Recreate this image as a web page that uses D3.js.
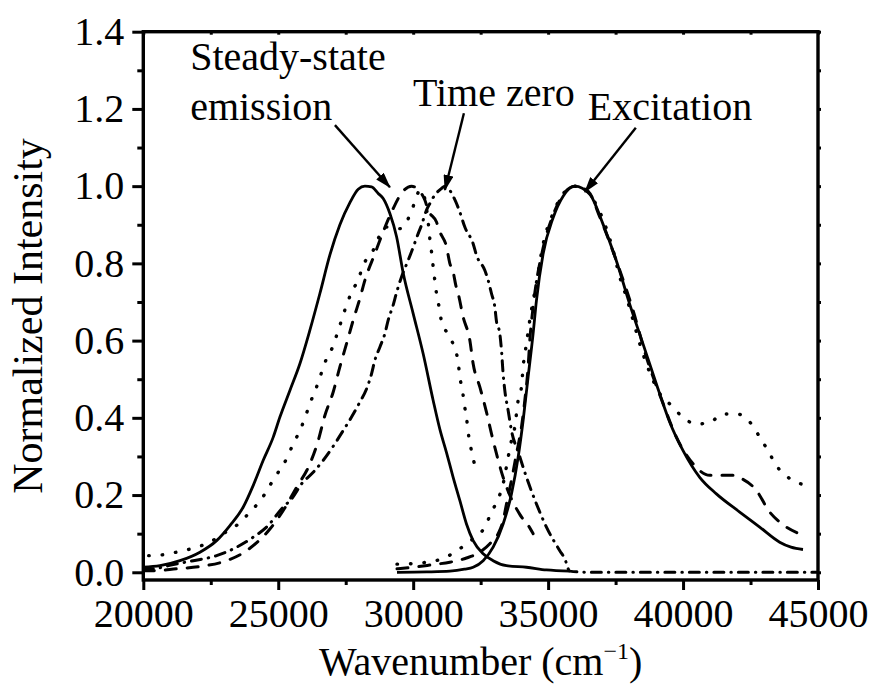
<!DOCTYPE html>
<html>
<head>
<meta charset="utf-8">
<script src="https://cdn.jsdelivr.net/npm/d3@7"></script>
<style>
    body { margin: 0; background: #fff; }
    svg { display: block; }
    text { font-family: "Liberation Serif", "Times New Roman", serif; fill: #000; }
</style>
</head>
<body>
<div id="chart"></div>
<script>
// Emission / excitation spectra: [wavenumber cm-1, normalized intensity]
const steadyEmission = [
    [20000, 0.013], [20617, 0.017], [21358, 0.030], [22099, 0.052], [22716, 0.082],
    [23210, 0.121], [23704, 0.169], [24074, 0.225], [24444, 0.290], [24815, 0.350],
    [25062, 0.402], [25432, 0.471], [25802, 0.540], [26173, 0.627], [26543, 0.722],
    [26914, 0.822], [27284, 0.900], [27660, 0.958], [27963, 0.992], [28211, 1.000],
    [28459, 0.998], [28704, 0.981], [28889, 0.968], [29137, 0.929], [29385, 0.869],
    [29630, 0.775], [30000, 0.670], [30370, 0.566], [30741, 0.445], [30990, 0.370],
    [31235, 0.310], [31481, 0.246], [31728, 0.186], [31975, 0.125], [32222, 0.082],
    [32593, 0.048], [32963, 0.030], [33457, 0.017], [34198, 0.013], [34938, 0.006],
    [35802, 0.003]
];
const dottedEmission = [
    [20200, 0.043], [20432, 0.043], [20926, 0.048], [21481, 0.056], [21975, 0.065],
    [22469, 0.078], [22963, 0.100], [23519, 0.125], [23951, 0.156], [24383, 0.190],
    [24691, 0.225], [25000, 0.259], [25309, 0.294], [25556, 0.333], [25802, 0.367],
    [26000, 0.402], [26173, 0.437], [26395, 0.475], [26568, 0.510], [26765, 0.549],
    [27000, 0.581], [27185, 0.618], [27346, 0.653], [27531, 0.692], [27716, 0.725],
    [27963, 0.758], [28148, 0.795], [28519, 0.834], [28765, 0.873], [29012, 0.894],
    [29506, 0.890], [29877, 0.925], [30062, 0.959], [30250, 0.990], [30420, 0.970],
    [30556, 0.907], [30617, 0.864], [30679, 0.830], [30741, 0.791], [30802, 0.756],
    [30864, 0.722], [30963, 0.686], [31049, 0.650], [31296, 0.616], [31543, 0.579],
    [31667, 0.544], [31728, 0.506], [31827, 0.471], [31889, 0.437], [31975, 0.401],
    [32037, 0.363], [32123, 0.328], [32222, 0.294], [32407, 0.257]
];
const dashedEmission = [
    [20000, 0.004], [20370, 0.004], [21235, 0.009], [22099, 0.015], [23086, 0.030],
    [23827, 0.056], [24691, 0.112], [25185, 0.160], [25679, 0.220], [26173, 0.281],
    [26481, 0.341], [26728, 0.406], [27037, 0.467], [27284, 0.532], [27531, 0.592],
    [27778, 0.653], [28025, 0.709], [28210, 0.756], [28580, 0.825], [28889, 0.882],
    [29259, 0.942], [29600, 0.985], [29941, 1.000], [30200, 0.990], [30432, 0.964],
    [30556, 0.938], [30864, 0.907], [30988, 0.882], [31235, 0.843], [31358, 0.800],
    [31481, 0.778], [31580, 0.743], [31667, 0.722], [31852, 0.661], [32099, 0.601],
    [32222, 0.540], [32469, 0.480], [32716, 0.415], [32901, 0.359], [33086, 0.307],
    [33333, 0.246], [33642, 0.190], [33951, 0.150], [34321, 0.115], [34444, 0.100]
];
const timeZeroEmission = [
    [20000, 0.008], [20370, 0.009], [21111, 0.020], [21852, 0.030], [22716, 0.043],
    [23457, 0.065], [24074, 0.091], [24568, 0.117], [25185, 0.169], [25494, 0.190],
    [25864, 0.229], [26296, 0.259], [26667, 0.290], [27099, 0.333], [27407, 0.367],
    [27716, 0.402], [28025, 0.441], [28272, 0.475], [28457, 0.514], [28580, 0.549],
    [28765, 0.583], [28951, 0.618], [29074, 0.653], [29259, 0.692], [29383, 0.724],
    [29568, 0.765], [29815, 0.808], [29938, 0.830], [30185, 0.877], [30309, 0.899],
    [30494, 0.938], [30617, 0.955], [30802, 0.977], [31049, 0.994], [31173, 1.000],
    [31543, 0.965], [31728, 0.933], [31914, 0.894], [32222, 0.851], [32346, 0.821],
    [32654, 0.782], [32778, 0.756], [32901, 0.722], [33025, 0.687], [33086, 0.650],
    [33210, 0.618], [33272, 0.575], [33333, 0.514], [33395, 0.471], [33519, 0.419],
    [33642, 0.367], [33900, 0.310], [34198, 0.246], [34568, 0.177], [34938, 0.117],
    [35432, 0.056], [35617, 0.035], [35800, 0.003], [36500, 0.000], [45000, 0.000]
];
const steadyExcitation = [
    [29400, 0.000], [30500, 0.001], [31358, 0.003], [31900, 0.008], [32222, 0.013],
    [32593, 0.030], [32963, 0.065], [33333, 0.125], [33642, 0.203], [33889, 0.298],
    [34074, 0.393], [34259, 0.506], [34444, 0.618], [34568, 0.704], [34815, 0.825],
    [35185, 0.918], [35556, 0.974], [35989, 1.000], [36543, 0.979], [37037, 0.901],
    [37531, 0.806], [38025, 0.694], [38519, 0.591], [39136, 0.462], [39500, 0.390],
    [40000, 0.315], [40617, 0.246], [41235, 0.203], [42099, 0.156], [42840, 0.117],
    [43580, 0.078], [44000, 0.065], [44444, 0.059]
];
const dashedExcitation = [
    [29400, 0.009], [30000, 0.013], [30741, 0.020], [31358, 0.026], [31975, 0.037],
    [32469, 0.052], [32840, 0.074], [33148, 0.100], [33333, 0.134], [33457, 0.177],
    [33642, 0.238], [33827, 0.307], [34012, 0.376], [34136, 0.445], [34259, 0.532],
    [34321, 0.600], [34444, 0.687], [34815, 0.840], [35185, 0.925], [35556, 0.978],
    [35989, 1.000], [36500, 0.985], [36914, 0.920], [37654, 0.782], [38148, 0.678],
    [38642, 0.557], [39259, 0.437], [39753, 0.350], [40370, 0.281], [40989, 0.251],
    [41852, 0.251], [42099, 0.245], [42716, 0.212], [43210, 0.156], [43580, 0.130],
    [44444, 0.096]
];
const dottedExcitation = [
    [29400, 0.021], [30250, 0.024], [31111, 0.036], [31728, 0.061], [32222, 0.087],
    [32654, 0.117], [32901, 0.156], [33148, 0.190], [33333, 0.229], [33519, 0.298],
    [33642, 0.341], [33765, 0.376], [33889, 0.445], [34012, 0.480], [34074, 0.532],
    [34198, 0.592], [34321, 0.653], [34568, 0.750], [34815, 0.850], [35185, 0.930],
    [35556, 0.980], [35950, 1.000], [36400, 0.990], [36790, 0.951], [37160, 0.890],
    [37407, 0.834], [37654, 0.765], [37901, 0.713], [38148, 0.653], [38395, 0.592],
    [38642, 0.540], [38889, 0.497], [39136, 0.463], [39568, 0.432], [40000, 0.401],
    [40496, 0.384], [40989, 0.388], [41481, 0.410], [42000, 0.410], [42533, 0.384],
    [42841, 0.350], [43148, 0.315], [43459, 0.276], [43889, 0.246], [44444, 0.227]
];

const xMajorTicks = [20000, 25000, 30000, 35000, 40000, 45000];
const xMinorTicks = [22500, 27500, 32500, 37500, 42500];
const yMajorTicks = [0.0, 0.2, 0.4, 0.6, 0.8, 1.0, 1.2, 1.4];
const yMinorTicks = [0.1, 0.3, 0.5, 0.7, 0.9, 1.1, 1.3];

// Annotation labels and arrows, in data units: [text, wavenumber, intensity]
const labels = [
    ["Steady-state", 21736, 1.300],
    ["emission", 21736, 1.171],
    ["Time zero", 29990, 1.207],
    ["Excitation", 36470, 1.171]
];
// [fromWavenumber, fromIntensity, toWavenumber, toIntensity]
const arrows = [
    [27101, 1.158, 29138, 0.997],
    [31880, 1.189, 31175, 0.990],
    [38250, 1.151, 36360, 0.985]
];

const width = 872;
const height = 687;
const plotLeft = 143.3, plotRight = 818, plotTop = 31.7, plotBottom = 580;
const fontSize = 40;

const svg = d3.select("#chart").append("svg")
    .attr("width", width)
    .attr("height", height);

const x = d3.scaleLinear().domain([20000, 45000]).range([plotLeft, plotRight]);
const y = d3.scaleLinear().domain([-0.02, 1.4]).range([plotBottom, plotTop]);

svg.append("defs").append("clipPath").attr("id", "plot-clip")
    .append("rect")
    .attr("x", plotLeft).attr("y", plotTop)
    .attr("width", plotRight - plotLeft).attr("height", plotBottom - plotTop);

const line = d3.line()
    .x(d => x(d[0]))
    .y(d => y(d[1]))
    .curve(d3.curveMonotoneX);

const solid = null;
const dotted = "0.5,13";
const dashed = "11,11";
const dashDot = "10,7,0.5,7";

const series = [
    { data: steadyEmission, dash: solid },
    { data: dottedEmission, dash: dotted },
    { data: dashedEmission, dash: dashed },
    { data: timeZeroEmission, dash: dashDot },
    { data: steadyExcitation, dash: solid },
    { data: dashedExcitation, dash: dashed },
    { data: dottedExcitation, dash: dotted }
];

svg.append("g")
    .attr("clip-path", "url(#plot-clip)")
    .selectAll("path")
    .data(series)
    .join("path")
    .attr("d", s => line(s.data))
    .attr("fill", "none")
    .attr("stroke", "#000")
    .attr("stroke-width", s => s.dash === dotted ? 3.4 : s.dash ? 3 : 2.8)
    .attr("stroke-linecap", s => s.dash ? "round" : "butt")
    .attr("stroke-linejoin", "round")
    .attr("stroke-dasharray", s => s.dash);

// axes
function styleAxis(g) {
    g.select(".domain").remove();
    g.selectAll(".tick line").attr("stroke", "#000").attr("stroke-width", 3);
    g.selectAll(".tick text")
        .attr("fill", "#000")
        .style("font-family", "'Liberation Serif', 'Times New Roman', serif")
        .style("font-size", fontSize + "px");
}

svg.append("g")
    .attr("transform", `translate(0,${plotBottom})`)
    .call(d3.axisBottom(x).tickValues(xMajorTicks).tickSize(10).tickSizeOuter(0)
        .tickPadding(9).tickFormat(d3.format("d")))
    .call(styleAxis);
svg.append("g")
    .attr("transform", `translate(0,${plotBottom})`)
    .call(d3.axisBottom(x).tickValues(xMinorTicks).tickSize(5).tickSizeOuter(0).tickFormat(""))
    .call(styleAxis);
svg.append("g")
    .attr("transform", `translate(${plotLeft},0)`)
    .call(d3.axisLeft(y).tickValues(yMajorTicks).tickSize(11).tickSizeOuter(0)
        .tickPadding(8).tickFormat(d3.format(".1f")))
    .call(styleAxis);
svg.append("g")
    .attr("transform", `translate(${plotLeft},0)`)
    .call(d3.axisLeft(y).tickValues(yMinorTicks).tickSize(6).tickSizeOuter(0).tickFormat(""))
    .call(styleAxis);
// tiny mirrored ticks on the top and right edges
svg.append("g")
    .attr("transform", `translate(0,${plotTop})`)
    .call(d3.axisTop(x).tickValues(xMajorTicks.concat(xMinorTicks)).tickSize(-3).tickSizeOuter(0).tickFormat(""))
    .call(styleAxis);
svg.append("g")
    .attr("transform", `translate(${plotRight},0)`)
    .call(d3.axisRight(y).tickValues(yMajorTicks.concat(yMinorTicks)).tickSize(3).tickSizeOuter(0).tickFormat(""))
    .call(styleAxis);

svg.append("rect")
    .attr("x", plotLeft).attr("y", plotTop)
    .attr("width", plotRight - plotLeft).attr("height", plotBottom - plotTop)
    .attr("fill", "none")
    .attr("stroke", "#000")
    .attr("stroke-width", 3.4);

// axis titles
const xTitle = svg.append("text")
    .attr("x", (plotLeft + plotRight) / 2)
    .attr("y", 675)
    .attr("text-anchor", "middle")
    .style("font-size", fontSize + "px");
xTitle.append("tspan").text("Wavenumber (cm");
xTitle.append("tspan").attr("dy", -16).style("font-size", "24px").text("\u22121");
xTitle.append("tspan").attr("dy", 16).text(")");

svg.append("text")
    .attr("transform", "translate(42,316) rotate(-90)")
    .attr("text-anchor", "middle")
    .style("font-size", "42px")
    .text("Normalized Intensity");

// annotations
svg.append("defs").append("marker")
    .attr("id", "arrowhead")
    .attr("markerUnits", "userSpaceOnUse")
    .attr("viewBox", "0 0 16 10")
    .attr("refX", 15).attr("refY", 5)
    .attr("markerWidth", 16).attr("markerHeight", 10)
    .attr("orient", "auto")
    .append("path")
    .attr("d", "M0,0 L16,5 L0,10 Z")
    .attr("fill", "#000");

svg.append("g")
    .selectAll("line")
    .data(arrows)
    .join("line")
    .attr("x1", d => x(d[0])).attr("y1", d => y(d[1]))
    .attr("x2", d => x(d[2])).attr("y2", d => y(d[3]))
    .attr("stroke", "#000")
    .attr("stroke-width", 2.4)
    .attr("marker-end", "url(#arrowhead)");

svg.append("g")
    .selectAll("text")
    .data(labels)
    .join("text")
    .attr("x", d => x(d[1]))
    .attr("y", d => y(d[2]))
    .style("font-size", fontSize + "px")
    .text(d => d[0]);
</script>
</body>
</html>
